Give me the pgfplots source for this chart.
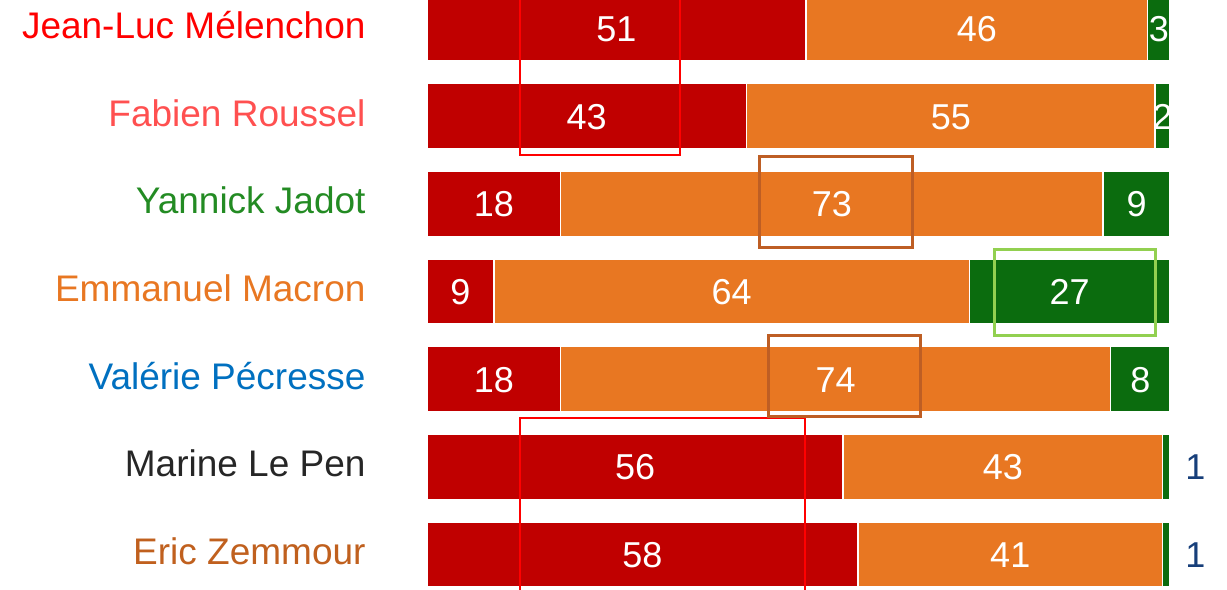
\documentclass[border=0pt]{standalone}
\usepackage{pgfplots}
\pgfplotsset{compat=1.18}
\usepackage{pgfplotstable}
\usepackage{fontspec}
\setmainfont{Liberation Sans}
\definecolor{bred}{HTML}{C00000}
\definecolor{borange}{HTML}{E87722}
\definecolor{bgreen}{HTML}{0B6C0E}
\definecolor{lroussel}{HTML}{FF5050}
\definecolor{ljadot}{HTML}{238B23}
\definecolor{lpecresse}{HTML}{0070C0}
\definecolor{llepen}{HTML}{262626}
\definecolor{lzemmour}{HTML}{C0601E}
\definecolor{boxbrown}{HTML}{BE5E24}
\definecolor{boxgreen}{HTML}{92D050}
\definecolor{onecol}{HTML}{173F7A}
\pgfplotstableread{
y red orange green
0 51 46 3
1 43 55 2
2 18 73 9
3 9 64 27
4 18 74 8
5 56 43 1
6 58 41 1
}\datatab
\begin{document}
\begin{tikzpicture}[
  numlab/.style={anchor=base, text=white, font=\fontsize{36bp}{40bp}\selectfont, yshift=-13bp},
  catlab/.style={anchor=base east, font=\fontsize{37bp}{42bp}\selectfont, yshift=-10bp},
]
\begin{axis}[
  name=ax, at={(0,0)}, anchor=south west,
  set layers,
  scale only axis, width=743bp, height=590bp,
  xmin=0, xmax=100, ymin=-0.324, ymax=6.404, y dir=reverse,
  hide axis, clip=false,
  xbar stacked, bar width=65bp,
  every axis plot/.append style={draw=white, line width=1.5bp, on layer=axis background},
]
\addplot[fill=bred] table[x=red, y=y] {\datatab};
\addplot[fill=borange] table[x=orange, y=y] {\datatab};
\addplot[fill=bgreen] table[x=green, y=y] {\datatab};

% annotation boxes
\draw[red, line width=2.5bp] (axis cs:12.5,-0.324) -- (axis cs:12.5,1.444) -- (axis cs:34.05,1.444) -- (axis cs:34.05,-0.324);
\draw[boxbrown, line width=3bp] (axis cs:44.8,1.455) rectangle (axis cs:65.3,2.493);
\draw[boxgreen, line width=3bp] (axis cs:76.4,2.516) rectangle (axis cs:98.1,3.507);
\draw[boxbrown, line width=3bp] (axis cs:45.9,3.507) rectangle (axis cs:66.4,4.431);
\draw[red, line width=2.5bp] (axis cs:12.5,6.404) -- (axis cs:12.5,4.443) -- (axis cs:50.9,4.443) -- (axis cs:50.9,6.404);

% value labels
\node[numlab] at (axis cs:25.5,0) {51};
\node[numlab] at (axis cs:74,0) {46};
\node[numlab] at (axis cs:98.5,0) {3};
\node[numlab] at (axis cs:21.5,1) {43};
\node[numlab] at (axis cs:70.5,1) {55};
\node[numlab] at (axis cs:99,1) {2};
\node[numlab] at (axis cs:9,2) {18};
\node[numlab] at (axis cs:54.5,2) {73};
\node[numlab] at (axis cs:95.5,2) {9};
\node[numlab] at (axis cs:4.5,3) {9};
\node[numlab] at (axis cs:41,3) {64};
\node[numlab] at (axis cs:86.5,3) {27};
\node[numlab] at (axis cs:9,4) {18};
\node[numlab] at (axis cs:55,4) {74};
\node[numlab] at (axis cs:96,4) {8};
\node[numlab] at (axis cs:28,5) {56};
\node[numlab] at (axis cs:77.5,5) {43};
\node[numlab, text=onecol] at (axis cs:103.4,5) {1};
\node[numlab] at (axis cs:29,6) {58};
\node[numlab] at (axis cs:78.5,6) {41};
\node[numlab, text=onecol] at (axis cs:103.4,6) {1};

% category labels
\node[catlab, text=red] at (axis cs:-7.8,0) {Jean-Luc Mélenchon};
\node[catlab, text=lroussel] at (axis cs:-7.8,1) {Fabien Roussel};
\node[catlab, text=ljadot] at (axis cs:-7.8,2) {Yannick Jadot};
\node[catlab, text=borange] at (axis cs:-7.8,3) {Emmanuel Macron};
\node[catlab, text=lpecresse] at (axis cs:-7.8,4) {Valérie Pécresse};
\node[catlab, text=llepen] at (axis cs:-7.8,5) {Marine Le Pen};
\node[catlab, text=lzemmour] at (axis cs:-7.8,6) {Eric Zemmour};
\end{axis}
\pgfresetboundingbox
\path (-427bp,0) rectangle (800bp,590bp);
\end{tikzpicture}
\end{document}
